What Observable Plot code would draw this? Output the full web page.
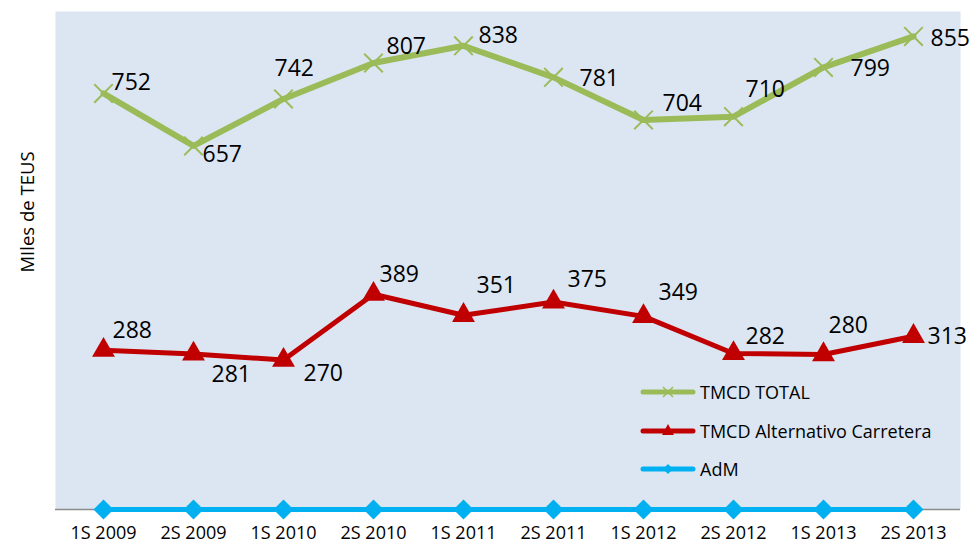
<!DOCTYPE html>
<html>
<head>
<meta charset="utf-8">
<script src="https://cdn.jsdelivr.net/npm/d3@7"></script>
<script src="https://cdn.jsdelivr.net/npm/@observablehq/plot@0.6"></script>
<style>
  html, body { margin: 0; padding: 0; background: #fff; }
  #wrap { position: relative; width: 973px; height: 544px; font-family: "Open Sans", sans-serif; }
  #legend { position: absolute; left: 640px; top: 380px; font-size: 18px; color: #000; }
  .row { position: absolute; left: 0; height: 24px; display: flex; align-items: center; white-space: nowrap; }
  .row svg { margin-right: 4px; }
  #ylabel { position: absolute; left: 27px; top: 212px; width: 200px; margin-left: -100px; margin-top: -12px;
            height: 24px; line-height: 24px; text-align: center; font-size: 18.5px; color: #000;
            transform: rotate(-90deg); white-space: nowrap; }
</style>
</head>
<body>
<div id="wrap"></div>
<script>
// ---- data ----
const categories = ["1S 2009","2S 2009","1S 2010","2S 2010","1S 2011","2S 2011","1S 2012","2S 2012","1S 2013","2S 2013"];
const totalValues = [752, 657, 742, 807, 838, 781, 704, 710, 799, 855];
const carreteraValues = [288, 281, 270, 389, 351, 375, 349, 282, 280, 313];
const admValues = [0, 0, 0, 0, 0, 0, 0, 0, 0, 0];
const seriesNames = ["TMCD TOTAL", "TMCD Alternativo Carretera", "AdM"];
const yLabel = "MIles de TEUS";

// ---- label layout (offsets in px from each point) ----
const totalLabelDx = [8, 9, -9, 13, 15, 26, 19, 12, 27, 17];
const totalLabelDy = [-11, 9, -30, -16, -10, 1, -16, -27, 1, 2];
const carrLabelDx = [9, 18, 20, 6, 13, 14, 15, 12, 5, 14];
const carrLabelDy = [-20, 21, 14, -20, -30, -22, -24, -17, -29, 0];

const colors = {total: "#9bbb59", carr: "#c00000", adm: "#00b0f0"};

const idx = categories.map((_, i) => i);

const labelMarks = [];
idx.forEach(i => {
  labelMarks.push(Plot.text([i], {
    x: d => categories[d], y: d => totalValues[d], text: d => String(totalValues[d]),
    dx: totalLabelDx[i], dy: totalLabelDy[i], textAnchor: "start", fontSize: 23, fill: "#000"
  }));
  labelMarks.push(Plot.text([i], {
    x: d => categories[d], y: d => carreteraValues[d], text: d => String(carreteraValues[d]),
    dx: carrLabelDx[i], dy: carrLabelDy[i], textAnchor: "start", fontSize: 23, fill: "#000"
  }));
});

const chart = Plot.plot({
  width: 973,
  height: 544,
  marginTop: 11,
  marginBottom: 35,
  marginLeft: 55,
  marginRight: 13,
  style: {fontFamily: "Open Sans, sans-serif", background: "transparent"},
  x: {type: "point", domain: categories, padding: 0.5, label: null},
  y: {domain: [0, 900], axis: null},
  marks: [
    Plot.frame({fill: "#dce6f2", stroke: null}),
    Plot.ruleY([0], {stroke: "#8c8c8c", strokeWidth: 1.5}),
    Plot.axisX({tickSize: 0, tickPadding: 17, fontSize: 18, color: "#000", label: null}),
    Plot.line(idx, {x: d => categories[d], y: d => admValues[d], stroke: colors.adm, strokeWidth: 5}),
    Plot.dot(idx, {x: d => categories[d], y: d => admValues[d], symbol: "diamond2", r: 9, fill: colors.adm, stroke: null}),
    Plot.line(idx, {x: d => categories[d], y: d => carreteraValues[d], stroke: colors.carr, strokeWidth: 5}),
    Plot.dot(idx, {x: d => categories[d], y: d => carreteraValues[d], symbol: "triangle", r: 8.5, fill: colors.carr, stroke: null}),
    Plot.line(idx, {x: d => categories[d], y: d => totalValues[d], stroke: colors.total, strokeWidth: 6}),
    Plot.dot(idx, {x: d => categories[d], y: d => totalValues[d], symbol: "times", r: 8.5, stroke: colors.total, strokeWidth: 2}),
    ...labelMarks
  ]
});

const wrap = document.getElementById("wrap");
wrap.appendChild(chart);

// ---- y label ----
const yl = document.createElement("div");
yl.id = "ylabel";
yl.textContent = yLabel;
wrap.appendChild(yl);

// ---- legend ----
const legend = document.createElement("div");
legend.id = "legend";
const legendRows = [
  {name: seriesNames[0], color: colors.total, sym: "times", top: 0},
  {name: seriesNames[1], color: colors.carr, sym: "triangle", top: 39},
  {name: seriesNames[2], color: colors.adm, sym: "diamond", top: 77}
];
legendRows.forEach(r => {
  const row = document.createElement("div");
  row.className = "row";
  row.style.top = r.top + "px";
  let marker = "";
  if (r.sym === "times") marker = `<path d="M23,7 L33,17 M33,7 L23,17" stroke="${r.color}" stroke-width="1.5"/>`;
  if (r.sym === "triangle") marker = `<path d="M28,5 L34,16 L22,16 Z" fill="${r.color}"/>`;
  if (r.sym === "diamond") marker = `<path d="M28,7 L33,12 L28,17 L23,12 Z" fill="${r.color}"/>`;
  row.innerHTML = `<svg width="56" height="24"><line x1="3" y1="12" x2="53" y2="12" stroke="${r.color}" stroke-width="5" stroke-linecap="round"/>${marker}</svg><span>${r.name}</span>`;
  legend.appendChild(row);
});
wrap.appendChild(legend);
</script>
</body>
</html>
